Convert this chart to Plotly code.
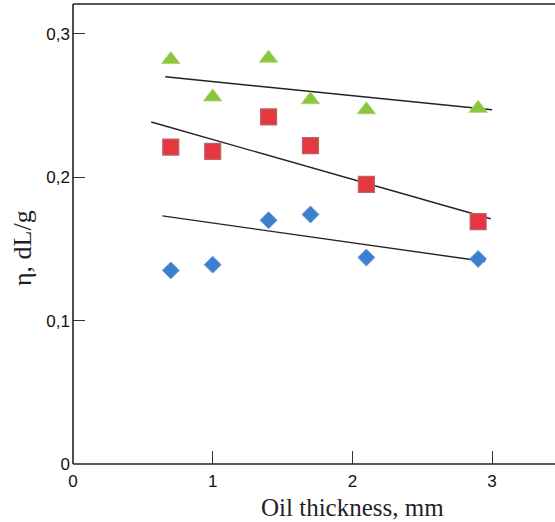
import plotly.graph_objects as go

# Data
thickness = [0.7, 1.0, 1.4, 1.7, 2.1, 2.9]
eta_triangle = [0.282, 0.256, 0.283, 0.254, 0.247, 0.248]
eta_square = [0.221, 0.218, 0.242, 0.222, 0.195, 0.169]
eta_diamond = [0.135, 0.139, 0.170, 0.174, 0.144, 0.143]

trend_x_triangle = [0.66, 3.0]
trend_y_triangle = [0.270, 0.247]
trend_x_square = [0.56, 2.99]
trend_y_square = [0.2385, 0.171]
trend_x_diamond = [0.64, 2.95]
trend_y_diamond = [0.173, 0.1412]

x_tickvals = [0, 1, 2, 3]
x_ticktext = ["0", "1", "2", "3"]
y_tickvals = [0, 0.1, 0.2, 0.3]
y_ticktext = ["0", "0,1", "0,2", "0,3"]

x_title = "Oil thickness, mm"
y_title = "η, dL/g"

W, H = 555, 522
L, R, T, B = 73, 0, 4, 58

fig = go.Figure()

line_style = dict(color="#222222", width=1.4)
for tx, ty in [(trend_x_triangle, trend_y_triangle),
               (trend_x_square, trend_y_square),
               (trend_x_diamond, trend_y_diamond)]:
    fig.add_trace(go.Scatter(x=tx, y=ty, mode="lines", line=line_style,
                             showlegend=False, hoverinfo="skip"))

fig.add_trace(go.Scatter(x=thickness, y=eta_triangle, mode="markers",
                         marker=dict(symbol="triangle-up", size=16, color="#8cc63f",
                                     line=dict(color="#a6cf6e", width=0.8)),
                         showlegend=False))
fig.add_trace(go.Scatter(x=thickness, y=eta_square, mode="markers",
                         marker=dict(symbol="square", size=16, color="#e4373f",
                                     line=dict(color="#b8666c", width=1.2)),
                         showlegend=False))
fig.add_trace(go.Scatter(x=thickness, y=eta_diamond, mode="markers",
                         marker=dict(symbol="diamond", size=13, color="#3b7fd0",
                                     line=dict(color="#6a98cc", width=1)),
                         showlegend=False))

axis_common = dict(showgrid=False, zeroline=False, showline=False,
                   ticks="inside",
                   tickcolor="#333333", tickwidth=1.2,
                   tickfont=dict(family="Liberation Sans", size=17, color="#111111"))

x_max = (W - L - R) / 139.7
y_max = (H - B - T) / 1434.0

frame = dict(color="#222222", width=1.6)

fig.update_layout(
    width=W, height=H,
    margin=dict(l=L, r=R, t=T, b=B),
    plot_bgcolor="white", paper_bgcolor="white",
    dragmode=False,
    xaxis=dict(range=[0, x_max], tickvals=x_tickvals, ticktext=x_ticktext,
               ticklen=13, ticklabelstandoff=5, **axis_common),
    yaxis=dict(range=[0, y_max], tickvals=y_tickvals, ticktext=y_ticktext,
               ticklen=12, ticklabelstandoff=2, **axis_common),
    shapes=[
        dict(type="line", xref="paper", yref="paper", x0=0, x1=1, y0=1, y1=1, line=frame),
        dict(type="line", xref="paper", yref="paper", x0=0, x1=1, y0=0, y1=0, line=frame),
        dict(type="line", xref="paper", yref="paper", x0=0, x1=0, y0=0, y1=1, line=frame),
    ],
    annotations=[
        dict(text=x_title, xref="paper", yref="paper",
             x=(352 - L) / (W - L - R), y=-(507 - (H - B)) / (H - T - B),
             xanchor="center", yanchor="middle", showarrow=False,
             font=dict(family="Liberation Serif", size=25, color="#1e1e2a")),
        dict(text=y_title, xref="paper", yref="paper", textangle=-90,
             x=-(L - 22) / (W - L - R), y=(H - B - 248) / (H - T - B),
             xanchor="center", yanchor="middle", showarrow=False,
             font=dict(family="Liberation Serif", size=26, color="#1e1e2a")),
    ],
)

fig.write_html("out.html", config={"staticPlot": True, "displayModeBar": False})
